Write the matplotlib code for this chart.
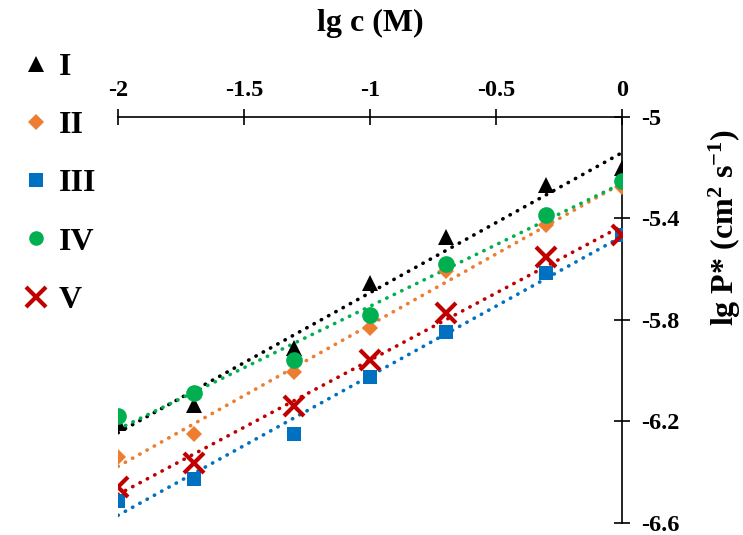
import numpy as np
import matplotlib
matplotlib.use('Agg')
import matplotlib.pyplot as plt

plt.rcParams['font.family'] = ['Liberation Serif', 'DejaVu Serif']
plt.rcParams['font.weight'] = 'bold'
plt.rcParams['mathtext.fontset'] = 'custom'
plt.rcParams['mathtext.rm'] = 'Liberation Serif:bold'
plt.rcParams['mathtext.bf'] = 'Liberation Serif:bold'
plt.rcParams['mathtext.default'] = 'bf'

# lg c values (0.01 ... 1 M)
lg_c = [-2, -1.7, -1.3, -1, -0.7, -0.3, 0]

# lg P* for each series
series_I = [-6.207, -6.136, -5.911, -5.655, -5.473, -5.270, -5.203]
series_II = [-6.341, -6.250, -6.006, -5.833, -5.607, -5.427, -5.276]
series_III = [-6.513, -6.427, -6.250, -6.026, -5.848, -5.616, -5.467]
series_IV = [-6.179, -6.087, -5.959, -5.781, -5.581, -5.388, -5.253]
series_V = [-6.459, -6.364, -6.140, -5.959, -5.772, -5.553, -5.467]

names = ['I', 'II', 'III', 'IV', 'V']
values = [series_I, series_II, series_III, series_IV, series_V]
colors = ['black', '#ED7D31', '#0070C0', '#00B050', '#C00000']
markers = ['^', 'D', 's', 'o', 'x']
sizes = [11, 8.5, 9.5, 12, 15]

fig = plt.figure(figsize=(7.43, 5.35), dpi=100)
ax = fig.add_axes([0.1588, 0.0224, 0.6783, 0.7598])

x = np.array(lg_c)
xfit = np.array([-2, 0])
for name, y, c, m, s in zip(names, values, colors, markers, sizes):
    # linear trendline, dotted like the Excel one
    k, b = np.polyfit(x, y, 1)
    ax.plot(xfit, k * xfit + b, color=c, lw=2.6, linestyle=(0, (0.1, 2.2)),
            dash_capstyle='round', zorder=2)
    mew = 3 if m == 'x' else 0
    ax.plot(x, y, linestyle='none', marker=m, color=c, markersize=s,
            markeredgewidth=mew, zorder=3, label=name)

ax.set_xlim(-2, 0)
ax.set_ylim(-6.6, -5)
ax.set_xticks([-2, -1.5, -1, -0.5, 0])
ax.set_xticklabels(['-2', '-1.5', '-1', '-0.5', '0'])
ax.set_yticks([-5, -5.4, -5.8, -6.2, -6.6])
ax.set_yticklabels(['-5', '-5.4', '-5.8', '-6.2', '-6.6'])

ax.spines['left'].set_visible(False)
ax.spines['bottom'].set_visible(False)
ax.spines['top'].set_linewidth(1.2)
ax.spines['right'].set_linewidth(1.2)
ax.xaxis.tick_top()
ax.yaxis.tick_right()
ax.tick_params(axis='both', direction='inout', length=12, width=1.2, pad=8)
ax.tick_params(axis='x', pad=5)
for lab in ax.get_xticklabels() + ax.get_yticklabels():
    lab.set_fontweight('bold')
    lab.set_fontsize(17.5)

fig.text(0.498, 0.957, 'lg c (M)', fontsize=23, fontweight='bold',
         ha='center', va='center')
fig.text(0.9758, 0.574, 'lg P* (cm$^{2}$ s$^{-1}$)', fontsize=23,
         fontweight='bold', rotation=90, ha='center', va='center')

leg_handles = []
for c, m in zip(colors, markers):
    mew = 3 if m == 'x' else 0
    ms = {'^': 11, 'D': 8.5, 's': 9.5, 'o': 10.5, 'x': 14}[m]
    leg_handles.append(plt.Line2D([], [], linestyle='none', marker=m, color=c,
                                  markersize=ms, markeredgewidth=mew))
fig.legend(leg_handles, names, loc='upper left', bbox_to_anchor=(0.01, 0.925),
           frameon=False, prop={'family': 'Liberation Serif', 'weight': 'bold', 'size': 23},
           handlelength=1.0, handletextpad=0.2, labelspacing=0.9, borderaxespad=0)

fig.savefig('out.png', dpi=100)
